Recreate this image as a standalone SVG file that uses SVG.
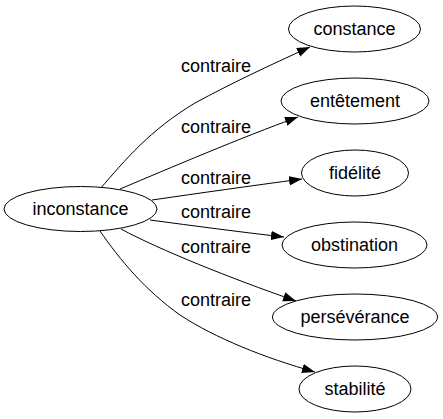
<svg xmlns="http://www.w3.org/2000/svg" width="443" height="419" viewBox="0 0 443 419">
<style>
.n ellipse{fill:#fff;stroke:#000;stroke-width:1}
text{font-family:"Liberation Sans",Arial,sans-serif;font-size:18px;fill:#000}
.n text{text-anchor:middle}
.e path{fill:none;stroke:#000;stroke-width:1}
</style>
<defs>
<marker id="a" markerUnits="userSpaceOnUse" markerWidth="14" markerHeight="10" refX="13" refY="5" orient="auto">
<path d="M0,0.3 L13,5 L0,9.7 Z" fill="#000"/>
</marker>
</defs>
<rect width="443" height="419" fill="#fff"/>
<g id="edges" class="e">
<path d="M100,189 C125,160 150,130 195,103 C230,84 268,66 310,47" marker-end="url(#a)"/>
<path d="M120,189 C170,168 240,138 298,117" marker-end="url(#a)"/>
<path d="M152,200 C200,193 250,186 302,179" marker-end="url(#a)"/>
<path d="M150,220 C195,226 240,232 284,237" marker-end="url(#a)"/>
<path d="M121,229 C160,250 230,278 296,301" marker-end="url(#a)"/>
<path d="M100,231 C120,260 145,290 180,315 C215,338 265,358 315,372" marker-end="url(#a)"/>
<text x="181" y="72">contraire</text>
<text x="181" y="133">contraire</text>
<text x="181" y="184">contraire</text>
<text x="181" y="218">contraire</text>
<text x="181" y="253">contraire</text>
<text x="181" y="306">contraire</text>
</g>
<g id="inconstance" class="n"><ellipse cx="80.5" cy="209" rx="76.5" ry="22.5"/><text x="80.5" y="215">inconstance</text></g>
<g id="constance" class="n"><ellipse cx="354.5" cy="29" rx="66" ry="23"/><text x="354.5" y="35">constance</text></g>
<g id="entetement" class="n"><ellipse cx="355" cy="101" rx="74" ry="23"/><text x="355" y="107">entêtement</text></g>
<g id="fidelite" class="n"><ellipse cx="355" cy="173" rx="53.5" ry="23"/><text x="355" y="179">fidélité</text></g>
<g id="obstination" class="n"><ellipse cx="354.5" cy="245" rx="72.5" ry="23"/><text x="354.5" y="251">obstination</text></g>
<g id="perseverance" class="n"><ellipse cx="355" cy="317" rx="82.5" ry="23"/><text x="355" y="323">persévérance</text></g>
<g id="stabilite" class="n"><ellipse cx="355" cy="389" rx="56" ry="23"/><text x="355" y="395">stabilité</text></g>
</svg>
